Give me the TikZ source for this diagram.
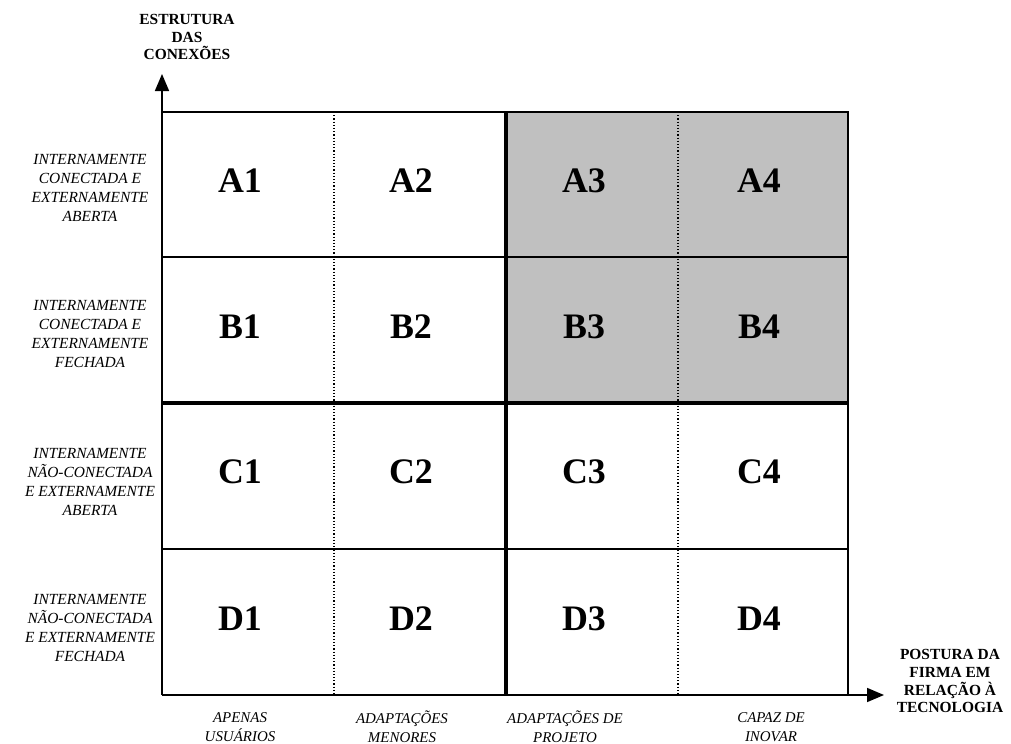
\documentclass[tikz,border=0pt]{standalone}
\usepackage{fontspec}
\setmainfont{Liberation Serif}
\usetikzlibrary{arrows.meta}
\definecolor{cellgray}{RGB}{192,192,192}

\begin{document}
\begin{tikzpicture}[x=1bp, y=-1bp,
    cell/.style={font=\fontsize{36}{36}\selectfont\bfseries},
    rowlab/.style={align=center, font=\fontsize{15.5}{19}\selectfont\itshape},
    collab/.style={align=center, font=\fontsize{15}{19}\selectfont\itshape},
    axislab/.style={align=center, font=\fontsize{15.5}{18}\selectfont\bfseries},
    thinline/.style={line width=1.6bp},
    thickline/.style={line width=4.2bp},
    dotline/.style={line width=1.2bp, dotted}]
    \useasboundingbox (0,0) rectangle (1011,744);

    % quadrante sombreado
    \fill[cellgray] (506,112) rectangle (848,403);

    % eixos
    \coordinate (orig) at (162,695);
    \coordinate (ytip) at (162,74);
    \coordinate (xtip) at (884,695);
    \draw[thinline, -{Triangle[length=17bp, width=14bp]}] (orig) -- (ytip);
    \draw[thinline, -{Triangle[length=17bp, width=14bp]}] (orig) -- (xtip);

    % grade
    \draw[thinline] (162,112) -- (848,112) -- (848,695);
    \draw[thinline] (162,257) -- (848,257);
    \draw[thinline] (162,549) -- (848,549);
    \draw[dotline] (334,112) -- (334,695);
    \draw[dotline] (678,112) -- (678,695);
    \draw[thickline] (162,403) -- (848,403);
    \draw[thickline] (506,112) -- (506,695);

    % celulas
    \foreach \r/\y in {A/181,B/327,C/472,D/619}
      \foreach \c/\x in {1/240,2/411,3/584,4/759}
        \node[cell] (cell\r\c) at (\x,\y) {\r\c};

    % linhas
    \node[rowlab] (rowA) at (90,188) {INTERNAMENTE\\CONECTADA E\\EXTERNAMENTE\\ABERTA};
    \node[rowlab] (rowB) at (90,334) {INTERNAMENTE\\CONECTADA E\\EXTERNAMENTE\\FECHADA};
    \node[rowlab] (rowC) at (90,482) {INTERNAMENTE\\NÃO-CONECTADA\\E EXTERNAMENTE\\ABERTA};
    \node[rowlab] (rowD) at (90,628) {INTERNAMENTE\\NÃO-CONECTADA\\E EXTERNAMENTE\\FECHADA};

    % colunas
    \node[collab] (col1) at (240,727) {APENAS\\USUÁRIOS};
    \node[collab] (col2) at (402,727) {ADAPTAÇÕES\\MENORES};
    \node[collab] (col3) at (565,727) {ADAPTAÇÕES DE\\PROJETO};
    \node[collab] (col4) at (771,727) {CAPAZ DE\\INOVAR};

    % rotulos dos eixos
    \node[axislab] (ylab) at (187,37) {ESTRUTURA\\DAS\\CONEXÕES};
    \node[axislab] (xlab) at (950,681) {POSTURA DA\\FIRMA EM\\RELAÇÃO À\\TECNOLOGIA};
\end{tikzpicture}
\end{document}
